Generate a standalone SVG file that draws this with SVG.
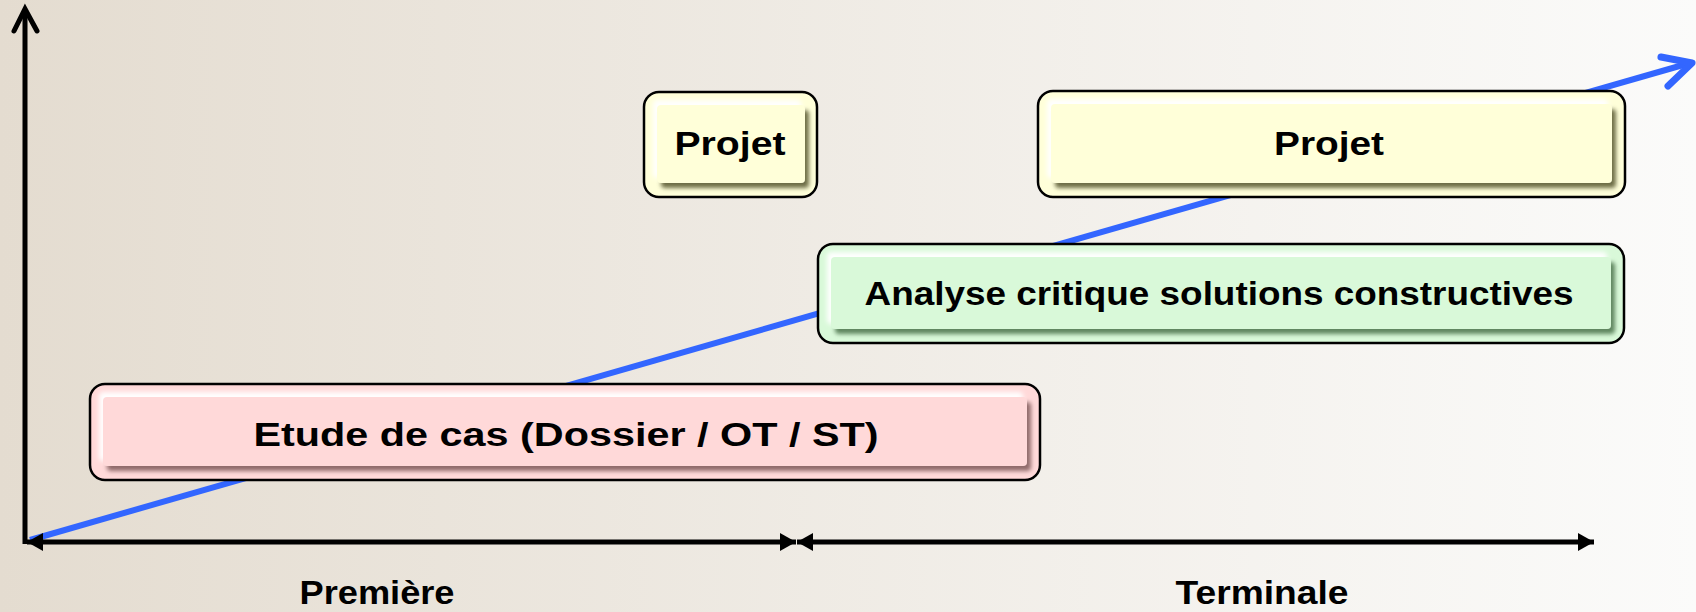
<svg xmlns="http://www.w3.org/2000/svg" width="1696" height="612" viewBox="0 0 1696 612">
<style>
.lbl{font-family:"Liberation Sans","DejaVu Sans",sans-serif;font-weight:bold;font-size:34px;fill:#000;text-anchor:middle}
.outer{stroke:#000;stroke-width:2.5}
.axis{stroke:#000;stroke-width:5;fill:none}
</style>
<defs>
<linearGradient id="bg" x1="0" y1="0" x2="1" y2="0">
<stop offset="0" stop-color="#e4dcd0"/>
<stop offset="1" stop-color="#fbfbfa"/>
</linearGradient>
<filter id="bevY" x="-10%" y="-30%" width="120%" height="160%">
<feFlood flood-color="#6e6e46" result="d"/>
<feComposite in="d" in2="SourceAlpha" operator="in" result="ds"/>
<feOffset in="ds" dx="4" dy="5" result="dso"/>
<feGaussianBlur in="dso" stdDeviation="2.2" result="dsb"/>
<feFlood flood-color="#ffffff" result="w"/>
<feComposite in="w" in2="SourceAlpha" operator="in" result="ws"/>
<feOffset in="ws" dx="-4" dy="-5" result="wso"/>
<feGaussianBlur in="wso" stdDeviation="2.5" result="wsb"/>
<feMerge><feMergeNode in="wsb"/><feMergeNode in="dsb"/><feMergeNode in="SourceGraphic"/></feMerge>
</filter>
<filter id="bevG" x="-10%" y="-30%" width="120%" height="160%">
<feFlood flood-color="#5e865e" result="d"/>
<feComposite in="d" in2="SourceAlpha" operator="in" result="ds"/>
<feOffset in="ds" dx="4" dy="5" result="dso"/>
<feGaussianBlur in="dso" stdDeviation="2.2" result="dsb"/>
<feFlood flood-color="#ffffff" result="w"/>
<feComposite in="w" in2="SourceAlpha" operator="in" result="ws"/>
<feOffset in="ws" dx="-4" dy="-5" result="wso"/>
<feGaussianBlur in="wso" stdDeviation="2.5" result="wsb"/>
<feMerge><feMergeNode in="wsb"/><feMergeNode in="dsb"/><feMergeNode in="SourceGraphic"/></feMerge>
</filter>
<filter id="bevP" x="-10%" y="-30%" width="120%" height="160%">
<feFlood flood-color="#906a6a" result="d"/>
<feComposite in="d" in2="SourceAlpha" operator="in" result="ds"/>
<feOffset in="ds" dx="4" dy="5" result="dso"/>
<feGaussianBlur in="dso" stdDeviation="2.2" result="dsb"/>
<feFlood flood-color="#ffffff" result="w"/>
<feComposite in="w" in2="SourceAlpha" operator="in" result="ws"/>
<feOffset in="ws" dx="-4" dy="-5" result="wso"/>
<feGaussianBlur in="wso" stdDeviation="2.5" result="wsb"/>
<feMerge><feMergeNode in="wsb"/><feMergeNode in="dsb"/><feMergeNode in="SourceGraphic"/></feMerge>
</filter>
<marker id="tri" viewBox="0 0 16 18" refX="16" refY="9" markerWidth="16" markerHeight="18" markerUnits="userSpaceOnUse" orient="auto-start-reverse">
<path d="M0,0 L16,9 L0,18 Z" fill="#000"/>
</marker>
</defs>
<rect x="0" y="0" width="1696" height="612" fill="url(#bg)"/>

<g id="connectors">
<line x1="30" y1="540" x2="1690" y2="63" stroke="#3366ff" stroke-width="6"/>
<polyline points="1661,57 1692,63 1668,86" fill="none" stroke="#3366ff" stroke-width="7" stroke-linecap="round" stroke-linejoin="round"/>
<line class="axis" x1="25" y1="10" x2="25" y2="544" stroke-linecap="butt"/>
<polyline points="14,31 25,9 37,31" fill="none" stroke="#000" stroke-width="5" stroke-linecap="round" stroke-linejoin="miter"/>
<line class="axis" x1="27" y1="542" x2="796" y2="542" marker-start="url(#tri)" marker-end="url(#tri)"/>
<line class="axis" x1="797" y1="542" x2="1594" y2="542" marker-start="url(#tri)" marker-end="url(#tri)"/>
</g>

<g id="projet1">
<rect class="outer" x="644" y="92" width="173" height="105" rx="15" fill="#ffffd9"/>
<rect x="657" y="105" width="148" height="78" rx="4" fill="#ffffd9" filter="url(#bevY)"/>
<text class="lbl" x="730" y="155" textLength="111" lengthAdjust="spacingAndGlyphs">Projet</text>
</g>

<g id="projet2">
<rect class="outer" x="1038" y="91" width="587" height="106" rx="15" fill="#ffffd9"/>
<rect x="1051" y="104" width="561" height="79" rx="4" fill="#ffffd9" filter="url(#bevY)"/>
<text class="lbl" x="1329" y="155" textLength="110" lengthAdjust="spacingAndGlyphs">Projet</text>
</g>

<g id="analyse">
<rect class="outer" x="818" y="244" width="806" height="99" rx="15" fill="#d9f9d9"/>
<rect x="831" y="257" width="780" height="72" rx="4" fill="#d9f9d9" filter="url(#bevG)"/>
<text class="lbl" x="1219" y="305" textLength="709" lengthAdjust="spacingAndGlyphs">Analyse critique solutions constructives</text>
</g>

<g id="etude">
<rect class="outer" x="90" y="384" width="950" height="96" rx="15" fill="#ffd9d9"/>
<rect x="103" y="397" width="924" height="69" rx="4" fill="#ffd9d9" filter="url(#bevP)"/>
<text class="lbl" x="566" y="446" textLength="625" lengthAdjust="spacingAndGlyphs">Etude de cas (Dossier / OT / ST)</text>
</g>

<g id="premiere">
<text class="lbl" x="377" y="604" font-size="32" textLength="155" lengthAdjust="spacingAndGlyphs">Première</text>
</g>
<g id="terminale">
<text class="lbl" x="1262" y="604" font-size="32" textLength="173" lengthAdjust="spacingAndGlyphs">Terminale</text>
</g>
</svg>
